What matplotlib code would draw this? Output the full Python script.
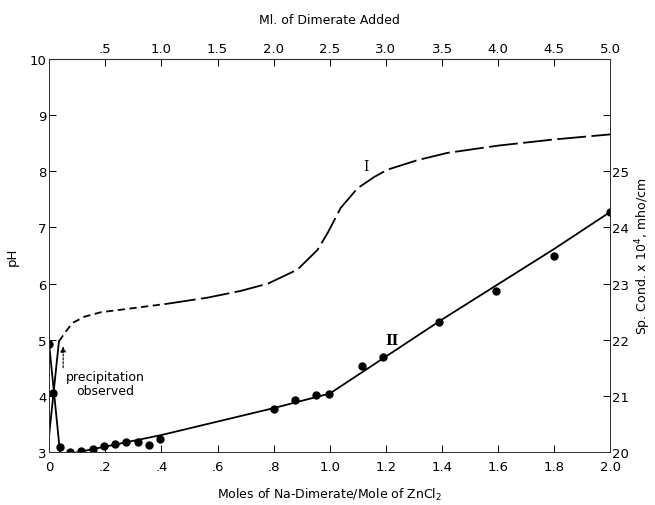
import matplotlib
matplotlib.use("Agg")
import matplotlib.pyplot as plt

# Curve I: pH (left axis)
ph_solid_x = [0.0, 0.035]
ph_solid_y = [3.3, 4.97]
ph_fine_x = [0.035, 0.06, 0.084, 0.126, 0.185, 0.28, 0.42]
ph_fine_y = [4.97, 5.15, 5.3, 5.41, 5.49, 5.55, 5.64]
ph_long_x = [0.42, 0.565, 0.683, 0.78, 0.885, 0.956, 0.992, 1.039, 1.099,
             1.158, 1.205, 1.312, 1.419, 1.6, 1.8, 2.0]
ph_long_y = [5.64, 5.75, 5.87, 6.0, 6.25, 6.6, 6.9, 7.35, 7.7,
             7.9, 8.03, 8.2, 8.33, 8.46, 8.57, 8.66]

# Curve II: specific conductance (right axis)
cond_dot_x = [0.0, 0.015, 0.04, 0.075, 0.115, 0.155, 0.195, 0.235, 0.275, 0.315,
              0.355, 0.395, 0.8, 0.877, 0.952, 0.996, 1.115, 1.191, 1.39, 1.591,
              1.8, 2.0]
cond_dot_y = [21.92, 21.05, 20.08, 20.0, 20.01, 20.06, 20.10, 20.14, 20.17, 20.18,
              20.13, 20.23, 20.76, 20.92, 21.01, 21.04, 21.53, 21.70, 22.31, 22.87,
              23.50, 24.28]
cond_line_x = [0.0, 0.04, 0.4, 0.6, 0.8, 1.0, 1.4, 1.8, 2.0]
cond_line_y = [21.92, 19.93, 20.3, 20.54, 20.78, 21.04, 22.36, 23.62, 24.28]

bottom_ticks = [0, 0.2, 0.4, 0.6, 0.8, 1.0, 1.2, 1.4, 1.6, 1.8, 2.0]
bottom_labels = ["0", ".2", ".4", ".6", ".8", "1.0", "1.2", "1.4", "1.6", "1.8", "2.0"]
top_ticks = [0.5, 1.0, 1.5, 2.0, 2.5, 3.0, 3.5, 4.0, 4.5, 5.0]
top_labels = [".5", "1.0", "1.5", "2.0", "2.5", "3.0", "3.5", "4.0", "4.5", "5.0"]
ph_ticks = [3, 4, 5, 6, 7, 8, 9, 10]
cond_ticks = [20, 21, 22, 23, 24, 25, 26]
cond_labels = ["20", "21", "22", "23", "24", "25", ""]

fig = plt.figure(figsize=(6.55, 5.06), dpi=100)
ax = fig.add_axes([0.075, 0.105, 0.857, 0.776])
ax.set_xlim(0, 2.0)
ax.set_ylim(3, 10)
for s in ax.spines.values():
    s.set_linewidth(0.7)
    s.set_color("#333333")

ax.plot(ph_solid_x, ph_solid_y, color="black", lw=1.3)
ax.plot(ph_fine_x, ph_fine_y, color="black", lw=1.3, dashes=(4, 2.5))
ax.plot(ph_long_x, ph_long_y, color="black", lw=1.3, dashes=(16, 3))

ax.set_xticks(bottom_ticks)
ax.set_xticklabels(bottom_labels)
ax.set_yticks(ph_ticks)
ax.tick_params(direction="in", length=5, width=0.7, labelsize=9.5)
ax.tick_params(axis="x", pad=6)
ax.tick_params(axis="y", pad=2)
ax.set_xlabel("Moles of Na-Dimerate/Mole of ZnCl$_2$", fontsize=9, labelpad=9)
ax.set_ylabel("pH", fontsize=9.5, labelpad=8)

ax2 = ax.twinx()
ax2.set_ylim(20, 27)
ax2.plot(cond_line_x, cond_line_y, color="black", lw=1.3)
ax2.plot(cond_dot_x, cond_dot_y, "o", color="black", ms=5)
ax2.set_yticks(cond_ticks)
ax2.set_yticklabels(cond_labels)
ax2.tick_params(direction="in", length=5, width=0.7, labelsize=9.5, pad=1)
ax2.set_ylabel("Sp. Cond. x 10$^4$, mho/cm", fontsize=9, labelpad=3)
for s in ax2.spines.values():
    s.set_linewidth(0.7)
    s.set_color("#333333")
for lbl in ax2.get_yticklabels():
    lbl.set_verticalalignment("center_baseline")

top = ax.secondary_xaxis("top", functions=(lambda m: m * 2.5, lambda v: v / 2.5))
top.set_xticks(top_ticks)
top.set_xticklabels(top_labels)
top.tick_params(direction="in", length=5, width=0.7, labelsize=9.5, pad=3)
top.set_xlabel("Ml. of Dimerate Added", fontsize=9, labelpad=14)

ax.text(1.13, 8.1, "I", fontsize=10, family="DejaVu Serif", ha="center", va="center")
ax2.text(1.22, 21.99, "II", fontsize=10, family="DejaVu Serif", weight="bold",
         ha="center", va="center")

ax.annotate("", xy=(0.05, 4.93), xytext=(0.05, 4.45),
            arrowprops=dict(arrowstyle="-|>", color="black", lw=0.8, ls=(0, (2, 1.5)),
                            mutation_scale=8))
ax.text(0.2, 4.22, "precipitation\nobserved", fontsize=9, ha="center", va="center",
        linespacing=1.1)

fig.savefig("out.png", dpi=100)
